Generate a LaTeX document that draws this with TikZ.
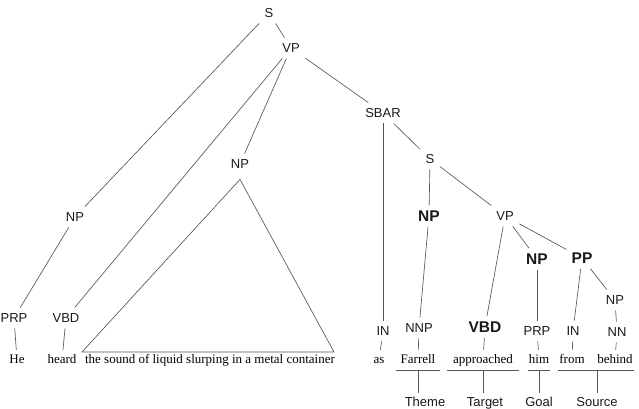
\documentclass[tikz,border=0pt]{standalone}
\usepackage{fontspec}
\setmainfont{Liberation Serif}
\setsansfont{Liberation Sans}
\usetikzlibrary{positioning}
\definecolor{branchgray}{RGB}{85,85,85}
\definecolor{tagblack}{RGB}{25,25,25}
\tikzset{
  tagnode/.style={
    font=\fontsize{13}{15}\selectfont\sffamily\color{tagblack},
    inner sep=5.5pt, text height=9.4pt, text depth=0pt
  },
  focusnode/.style={
    font=\fontsize{15.5}{18}\selectfont\sffamily\bfseries\color{tagblack},
    inner sep=5pt, text height=11.2pt, text depth=0pt
  },
  wordnode/.style={
    font=\fontsize{13}{15}\selectfont\rmfamily,
    inner xsep=3pt, inner ysep=4pt, text height=9pt, text depth=3pt
  },
  rolenode/.style={
    font=\fontsize{13}{15}\selectfont\sffamily\color{tagblack},
    inner sep=4pt, text height=9.4pt, text depth=2.6pt
  },
  branch/.style={
    draw=branchgray, line width=0.65pt
  },
}
\begin{document}
\begin{tikzpicture}[x=1pt, y=-1pt]

  \useasboundingbox (0,0) rectangle (639,409);

  %% upper tree
  \node[tagnode] (s1)   at (269,13)  {S};
  \node[tagnode] (vp1)  at (291,48)  {VP};
  \node[tagnode] (sbar) at (383,113) {SBAR};
  \node[tagnode] (npm)  at (240,164) {NP};
  \node[tagnode] (npl)  at (75,217)  {NP};
  \node[tagnode] (prp1) at (14,318)  {PRP};
  \node[tagnode] (vbd1) at (66,318)  {VBD};

  %% embedded clause
  \node[tagnode]   (s2)   at (430,159) {S};
  \node[focusnode] (npb)  at (429,216) {NP};
  \node[tagnode]   (vp2)  at (505,216) {VP};
  \node[focusnode] (npg)  at (537,259) {NP};
  \node[focusnode] (pp)   at (582,258) {PP};
  \node[tagnode]   (nps)  at (615,300) {NP};
  \node[tagnode]   (in1)  at (383,331) {IN};
  \node[tagnode]   (nnp)  at (419,328) {NNP};
  \node[focusnode] (vbdb) at (485,327) {VBD};
  \node[tagnode]   (prp2) at (537,331) {PRP};
  \node[tagnode]   (in2)  at (573,331) {IN};
  \node[tagnode]   (nn)   at (617,332) {NN};

  %% words
  \node[wordnode] (he)     at (17,360)  {He};
  \node[wordnode] (heard)  at (62,360)  {heard};
  \node[wordnode] (phrase) at (210,360) {the sound of liquid slurping in a metal container};
  \node[wordnode] (as)     at (379,360) {as};
  \node[wordnode, inner xsep=4pt] (farrell) at (418,360) {Farrell};
  \node[wordnode, inner xsep=6pt] (appr)    at (483,360) {approached};
  \node[wordnode, inner xsep=1pt] (him)     at (539,360) {him};
  \node[wordnode, inner xsep=1pt] (from)    at (572,360) {from};
  \node[wordnode, inner xsep=1pt] (behind)  at (615,360) {behind};

  %% frame roles
  \node[rolenode] (theme)  at (425,403) {Theme};
  \node[rolenode] (target) at (485,403) {Target};
  \node[rolenode] (goal)   at (539,403) {Goal};
  \node[rolenode] (source) at (597,403) {Source};

  %% branches
  \draw[branch] (s1) -- (vp1);
  \draw[branch] (s1) -- (npl);
  \draw[branch] (vp1) -- (vbd1);
  \draw[branch] (vp1) -- (npm);
  \draw[branch] (vp1) -- (sbar);
  \draw[branch] (npl) -- (prp1);
  \draw[branch] (sbar) -- (in1);
  \draw[branch] (sbar) -- (s2);
  \draw[branch] (s2) -- (npb);
  \draw[branch] (s2) -- (vp2);
  \draw[branch] (npb) -- (nnp);
  \draw[branch] (vp2) -- (vbdb);
  \draw[branch] (vp2) -- (npg);
  \draw[branch] (vp2) -- (pp);
  \draw[branch] (npg) -- (prp2);
  \draw[branch] (pp) -- (in2);
  \draw[branch] (pp) -- (nps);
  \draw[branch] (nps) -- (nn);

  %% leaves
  \draw[branch] (prp1) -- (he);
  \draw[branch] (vbd1) -- (heard);
  \draw[branch] (in1) -- (as);
  \draw[branch] (nnp) -- (farrell);
  \draw[branch] (vbdb) -- (appr);
  \draw[branch] (prp2) -- (him);
  \draw[branch] (in2) -- (from);
  \draw[branch] (nn) -- (behind);

  %% collapsed NP
  \coordinate[below=5pt of npm.south] (apex);
  \coordinate (triL) at (82,352);
  \coordinate (triR) at (334,352);
  \draw[branch] (apex) -- (triL) -- (triR) -- cycle;

  %% role brackets
  \draw[branch] (farrell.south west) -- (farrell.south east);
  \draw[branch] (farrell.south) -- (farrell.south |- theme.north);
  \draw[branch] (appr.south west) -- (appr.south east);
  \draw[branch] (appr.south) -- (appr.south |- target.north);
  \draw[branch] (him.south west) -- (him.south east);
  \draw[branch] (him.south) -- (him.south |- goal.north);
  \draw[branch] (from.south west) -- (behind.south east);
  \draw[branch] (source.north |- from.south) -- (source.north);

\end{tikzpicture}
\end{document}
